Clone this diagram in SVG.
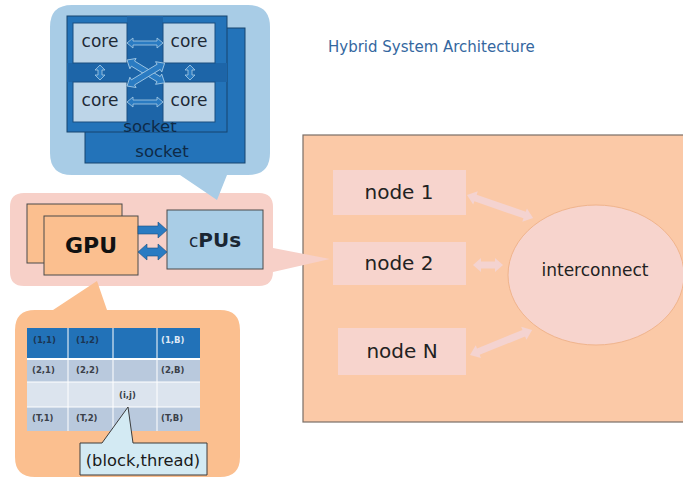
<svg xmlns="http://www.w3.org/2000/svg" width="683" height="482" viewBox="0 0 683 482">
<defs>
<style>
text{font-family:"DejaVu Sans","Liberation Sans",sans-serif;}
.core{fill:#bdd5e8;stroke:#1a4f80;stroke-width:1}
.coret{font-size:17px;fill:#1e2a36;text-anchor:middle}
.sock{fill:#2373b9;stroke:#17446f;stroke-width:1}
.sockt{font-size:16.5px;fill:#0e2a47;text-anchor:middle}
.node{fill:#f7d4cd}
.nodet{font-size:20px;fill:#222;text-anchor:middle}
.carr{fill:#2a7bc2;stroke:#a9cde6;stroke-width:0.8}
.narr{fill:#f4d3d0}
.cell{font-size:8.5px;font-weight:bold;fill:#3a3f48}
.garr{fill:#2a7bc2;stroke:#1a4f80;stroke-width:0.6}
</style>
</defs>
<rect width="683" height="482" fill="#ffffff"/>
<text x="328" y="52" style="font-size:15px;fill:#3467a0">Hybrid System Architecture</text>

<g id="cluster">
<rect x="303" y="135" width="382" height="287" fill="#fbc9a7" stroke="#7a6e66" stroke-width="1.2"/>
</g>

<g id="node-callout">
<path d="M24,193 H259 Q273,193 273,207 V248 L330,259 L273,272 V271 Q273,286 259,286 H24 Q10,286 10,272 V207 Q10,193 24,193 Z" fill="#f7d0c8"/>
</g>

<g id="gpu-callout">
<path d="M35,310 H53 L97,281 L107,310 H220 Q240,310 240,330 V457 Q240,477 220,477 H35 Q15,477 15,457 V330 Q15,310 35,310 Z" fill="#fbbf8f"/>
</g>

<g id="cpu-callout">
<path d="M72,5 H248 Q270,5 270,27 V153 Q270,175 248,175 H227 L217,200 L180,175 H72 Q50,175 50,153 V27 Q50,5 72,5 Z" fill="#a8cce6"/>
</g>

<g id="socket-back">
<rect class="sock" x="85" y="28" width="160" height="135"/>
<text class="sockt" x="162" y="157">socket</text>
</g>
<g id="socket-front">
<rect class="sock" x="67" y="16" width="160" height="116"/>
<rect x="127" y="16" width="36" height="116" fill="#1d65a8"/>
<rect x="67" y="63" width="160" height="19" fill="#1d65a8"/>
<text class="sockt" x="150" y="132">socket</text>
</g>
<g id="core1"><rect class="core" x="73" y="23" width="54" height="40"/><text class="coret" x="100" y="47">core</text></g>
<g id="core2"><rect class="core" x="163" y="23" width="52" height="40"/><text class="coret" x="189" y="47">core</text></g>
<g id="core3"><rect class="core" x="73" y="82" width="54" height="40"/><text class="coret" x="100" y="106">core</text></g>
<g id="core4"><rect class="core" x="163" y="82" width="52" height="40"/><text class="coret" x="189" y="106">core</text></g>

<g id="gpu">
<rect x="27" y="204" width="95" height="59" fill="#fbbf8f" stroke="#4a4a4a" stroke-width="1"/>
<rect x="44" y="216" width="94" height="59" fill="#fbbf8f" stroke="#4a4a4a" stroke-width="1"/>
<text x="91" y="253" style="font-size:22px;font-weight:bold;fill:#111;text-anchor:middle">GPU</text>
</g>
<g id="cpus">
<rect x="167" y="210" width="96" height="59" fill="#a9cde6" stroke="#4a4a4a" stroke-width="1"/>
<text x="215" y="247" style="font-size:20px;fill:#1a2633;text-anchor:middle"><tspan style="font-size:17px">c</tspan><tspan style="font-weight:bold">PUs</tspan></text>
</g>

<g id="node1"><rect class="node" x="333" y="170" width="133" height="45"/><text class="nodet" x="399" y="199">node 1</text></g>
<g id="node2"><rect class="node" x="333" y="242" width="133" height="43"/><text class="nodet" x="399" y="270">node 2</text></g>
<g id="nodeN"><rect class="node" x="338" y="328" width="128" height="47"/><text class="nodet" x="402" y="358">node N</text></g>
<g id="interconnect">
<ellipse cx="596" cy="275" rx="88" ry="70" fill="#f7d4cd" stroke="#f0b48c" stroke-width="1"/>
<text x="595" y="276" style="font-size:17px;fill:#222;text-anchor:middle">interconnect</text>
</g>

<g id="grid">
<rect x="27" y="328" width="173" height="31" fill="#2272b8"/>
<rect x="27" y="359" width="173" height="23" fill="#b9c9dd"/>
<rect x="27" y="382" width="173" height="25" fill="#dce4ee"/>
<rect x="27" y="407" width="173" height="24" fill="#b9c9dd"/>
<g stroke="#ffffff" stroke-width="1">
<line x1="68" y1="328" x2="68" y2="431"/>
<line x1="113" y1="328" x2="113" y2="431"/>
<line x1="157" y1="328" x2="157" y2="431"/>
<line x1="27" y1="359" x2="200" y2="359" stroke-width="2"/>
<line x1="27" y1="382" x2="200" y2="382"/>
<line x1="27" y1="407" x2="200" y2="407"/>
</g>
<text class="cell" x="33" y="343" style="fill:#1b3553">(1,1)</text>
<text class="cell" x="76" y="343" style="fill:#1b3553">(1,2)</text>
<text class="cell" x="161" y="343" style="fill:#dfe9f5">(1,B)</text>
<text class="cell" x="32" y="373">(2,1)</text>
<text class="cell" x="76" y="373">(2,2)</text>
<text class="cell" x="161" y="373">(2,B)</text>
<text class="cell" x="119" y="398">(i,j)</text>
<text class="cell" x="32" y="421">(T,1)</text>
<text class="cell" x="76" y="421">(T,2)</text>
<text class="cell" x="161" y="421">(T,B)</text>
</g>
<g id="block-thread">
<path d="M80,443 H102 L128,407 L133,443 H207 V475 H80 Z" fill="#d3eaf3" stroke="#3c3c3c" stroke-width="1"/>
<text x="143" y="466" style="font-size:16.3px;fill:#1a1a1a;text-anchor:middle">(block,thread)</text>
</g>

<g id="connectors">
<polygon class="carr" transform="translate(127,43)" points="0,0 6,-5 6,-2 30,-2 30,-5 36,0 30,5 30,2 6,2 6,5"/>
<polygon class="carr" transform="translate(127,102)" points="0,0 6,-5 6,-2 30,-2 30,-5 36,0 30,5 30,2 6,2 6,5"/>
<polygon class="carr" transform="translate(100,65) rotate(90)" points="0,0 5,-5 5,-2 10,-2 10,-5 15,0 10,5 10,2 5,2 5,5"/>
<polygon class="carr" transform="translate(190,65) rotate(90)" points="0,0 5,-5 5,-2 10,-2 10,-5 15,0 10,5 10,2 5,2 5,5"/>
<polygon class="carr" transform="translate(127,60) rotate(31.2)" points="0,0 7,-6 7,-3 37,-3 37,-6 44,0 37,6 37,3 7,3 7,6"/>
<polygon class="carr" transform="translate(127,86) rotate(-31.2)" points="0,0 7,-6 7,-3 37,-3 37,-6 44,0 37,6 37,3 7,3 7,6"/>
<polygon class="garr" transform="translate(138,230)" points="0,-4 20,-4 20,-8 29,0 20,8 20,4 0,4"/>
<polygon class="garr" transform="translate(138,252)" points="0,0 9,-8 9,-4 20,-4 20,-8 29,0 20,8 20,4 9,4 9,8"/>
<polygon class="narr" transform="translate(467,195) rotate(19.2)" points="0,0 9,-7 9,-3.5 61,-3.5 61,-7 70,0 61,7 61,3.5 9,3.5 9,7"/>
<polygon class="narr" transform="translate(473,265)" points="0,0 8,-7 8,-3.5 22,-3.5 22,-7 30,0 22,7 22,3.5 8,3.5 8,7"/>
<polygon class="narr" transform="translate(470,355) rotate(-22)" points="0,0 9,-7 9,-3.5 58,-3.5 58,-7 67,0 58,7 58,3.5 9,3.5 9,7"/>
</g>
</svg>
